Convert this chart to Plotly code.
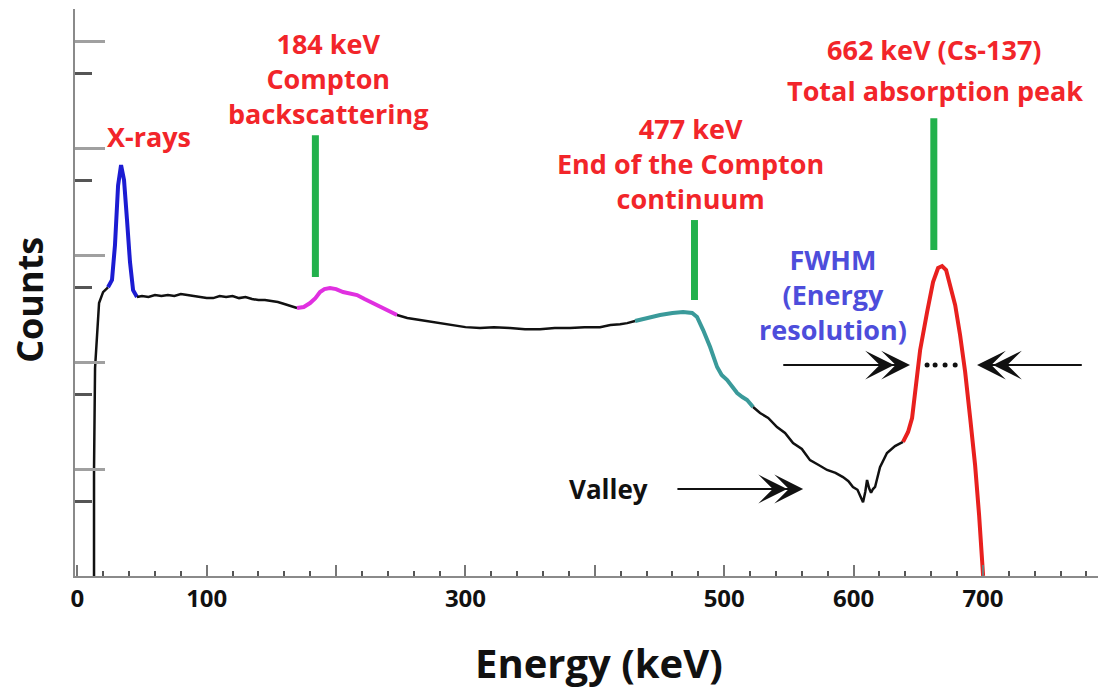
import plotly.graph_objects as go

# Cs-137 gamma spectrum (energy in keV, counts on a log scale), split into regions
rise_x = [12.9, 12.9, 13.7, 15.2, 16.8, 19.9, 23.7]
rise_y = [1, 9.8, 88, 199, 356, 450, 500]

xray_x = [23.7, 26.8, 29.1, 31.5, 33.8, 36.1, 38.4, 40.7, 43.1, 46.1]
xray_y = [500, 585, 1240, 4480, 6940, 5030, 2130, 860, 470, 405]

flat_x = [46.1, 50, 55, 60, 65, 70, 75, 80, 85, 90, 95, 100, 105, 110, 115, 120,
          125, 130, 135, 140, 145, 150, 155, 160, 165, 169.8]
flat_y = [405, 414, 405, 423, 414, 423, 414, 432, 423, 414, 405, 396, 396, 414, 405, 414,
          396, 405, 388, 380, 380, 371, 364, 349, 334, 320]

back_x = [169.8, 175, 179.9, 184, 187.6, 191, 195.3, 200, 205.4, 210, 216.2, 222,
          228.5, 234, 239.4, 243, 247.1]
back_y = [320, 327, 356, 396, 451, 481, 492, 481, 451, 441, 423, 388,
          356, 327, 306, 293, 275]

cont_x = [247.1, 255, 264.9, 275, 288.1, 300, 311.2, 322, 334.4, 346, 357.6, 369,
          380.8, 392, 404, 412, 419.5, 425, 431.1]
cont_y = [275, 258, 247, 237, 222, 212, 208, 212, 208, 203, 203, 208,
          208, 212, 212, 222, 226, 231, 242]

edge_x = [431.1, 440, 450.4, 460, 468.2, 475.2, 479.0, 483.7, 489.1, 494.5, 498,
          502.3, 506, 510.0, 514, 517.7, 522.3]
edge_y = [242, 258, 275, 287, 293, 287, 264, 199, 138, 89.8, 75.6,
          67.9, 59.7, 51.3, 47.1, 44.2, 38.0]

valley_x = [522.3, 527.7, 534, 540.8, 547, 553.2, 560, 566.3, 573, 579.5, 586, 591.8,
            596, 599.5, 603, 605.0, 607.3, 609, 610.4, 612, 613.5, 615, 616.6, 620.4,
            625.8, 632.0, 638.2]
valley_y = [38.0, 33.4, 30.0, 24.7, 21.7, 17.5, 15.4, 12.1, 10.9, 9.8, 9.2, 8.4,
            7.7, 6.8, 6.4, 5.7, 4.9, 6.1, 7.9, 6.6, 6.0, 6.5, 6.8, 10.4,
            14.1, 16.4, 17.9]

peak_x = [638.2, 642.1, 645.2, 647.5, 651.4, 656.8, 661.4, 665.3, 668.4, 671.5,
          674.6, 678.5, 682.3, 686.2, 690.1, 693.9, 697.0, 700.1]
peak_y = [17.9, 22.2, 30.0, 52.5, 129, 293, 560, 756, 789, 724,
          536, 341, 179, 81, 30, 10.9, 3.7, 1.0]

# FWHM dotted marker across the photopeak
fwhm_x = [656.8, 663.0, 670.7, 678.5]
fwhm_y = [93.8, 93.8, 93.8, 93.8]

# Marker energies (keV) with the vertical extent of each green bar (counts)
marker_kev = [184, 477, 662]
marker_lo = [623, 380, 1113]
marker_hi = [13200, 2125, 19050]

x_tickvals = [0, 100, 200, 300, 400, 500, 600, 700]
x_ticktext = ["0", "100", "", "300", "", "500", "600", "700"]
y_major = [1, 10, 100, 1000, 10000, 100000]
y_minor = [5, 50, 500, 5000, 50000]

BLACK = "#111111"
RED_TXT = "#f2252a"
BLUE_TXT = "#4d4ddb"
GREEN = "#22b14c"
FONT = "Open Sans"

fig = go.Figure()

segments = [
    (rise_x, rise_y, BLACK, 2.5),
    (xray_x, xray_y, "#1c1cd2", 4),
    (flat_x, flat_y, BLACK, 2.5),
    (back_x, back_y, "#e030e0", 4),
    (cont_x, cont_y, BLACK, 2.5),
    (edge_x, edge_y, "#3a9a9a", 4),
    (valley_x, valley_y, BLACK, 2.5),
    (peak_x, peak_y, "#e8201e", 4),
]
for xs, ys, col, w in segments:
    fig.add_trace(go.Scatter(x=xs, y=ys, mode="lines",
                             line=dict(color=col, width=w), hoverinfo="skip"))

for kev, lo, hi in zip(marker_kev, marker_lo, marker_hi):
    fig.add_trace(go.Scatter(x=[kev, kev], y=[lo, hi], mode="lines",
                             line=dict(color=GREEN, width=7), hoverinfo="skip"))

fig.add_trace(go.Scatter(x=fwhm_x, y=fwhm_y, mode="markers",
                         marker=dict(color=BLACK, size=5), hoverinfo="skip"))


def label(text, x, ylog, color, size=27):
    fig.add_annotation(x=x, y=ylog, text=text, showarrow=False, align="center",
                       font=dict(family=FONT, size=size, color=color, weight="bold"),
                       xanchor="center", yanchor="middle")


label("X-rays", 55.6, 4.112, RED_TXT)
label("184 keV<br>Compton<br>backscattering", 193.8, 4.650, RED_TXT)
label("477 keV<br>End of the Compton<br>continuum", 473.6, 3.855, RED_TXT)
label("662 keV (Cs-137)", 662.2, 4.925, RED_TXT)
label("Total absorption peak", 663.0, 4.542, RED_TXT)
label("FWHM<br>(Energy<br>resolution)", 584.1, 2.636, BLUE_TXT)
label("Valley", 410.2, 0.813, BLACK, 26)


def arrow(x_head, ylog, tail_px):
    fig.add_annotation(x=x_head, y=ylog, ax=tail_px, ay=0, text="",
                       showarrow=True, arrowhead=3, arrowsize=2.4, arrowwidth=2,
                       arrowcolor=BLACK)


# double-barbed arrows: a full arrow plus a second head just behind the tip
KEV_PER_PX = 1 / 1.2938
for head, ylog, tail in [(561.0, 0.813, -127), (643.6, 1.972, -128), (695.4, 1.972, 106)]:
    step = -16 if tail < 0 else 16
    arrow(head, ylog, tail)
    arrow(head + step * KEV_PER_PX, ylog, tail - step)

fig.add_annotation(x=-0.044, y=0.487, xref="paper", yref="paper", text="Counts",
                   textangle=-90, showarrow=False, xanchor="center", yanchor="middle",
                   font=dict(family=FONT, size=36, color=BLACK, weight="bold"))
fig.add_annotation(x=0.512, y=-0.153, xref="paper", yref="paper", text="Energy (keV)",
                   showarrow=False, xanchor="center", yanchor="middle",
                   font=dict(family=FONT, size=40, color=BLACK, weight="bold"))

fig.update_xaxes(range=[-1.8, 788.9], showgrid=False, zeroline=False,
                 showline=True, linecolor="#8a8a8a", linewidth=2,
                 tickmode="array", tickvals=x_tickvals, ticktext=x_ticktext,
                 ticks="inside", ticklen=11, tickwidth=2, tickcolor="#777777",
                 tickfont=dict(family=FONT, size=24, color=BLACK, weight="bold"),
                 minor=dict(dtick=20, tick0=0, ticks="inside", ticklen=5,
                            tickwidth=2, tickcolor="#555555", showgrid=False))
fig.update_yaxes(type="log", range=[0, 5.3], showgrid=False, zeroline=False,
                 showline=True, linecolor="#8a8a8a", linewidth=2,
                 tickmode="array", tickvals=y_major, showticklabels=False,
                 ticks="inside", ticklen=30, tickwidth=3, tickcolor="#a0a0a0",
                 minor=dict(tickmode="array", tickvals=y_minor, ticks="inside",
                            ticklen=17, tickwidth=3, tickcolor="#555555",
                            showgrid=False))

fig.update_layout(width=1102, height=693, showlegend=False,
                  margin=dict(l=75, r=4, t=9, b=117),
                  paper_bgcolor="white", plot_bgcolor="white")

fig.write_html("out.html")
